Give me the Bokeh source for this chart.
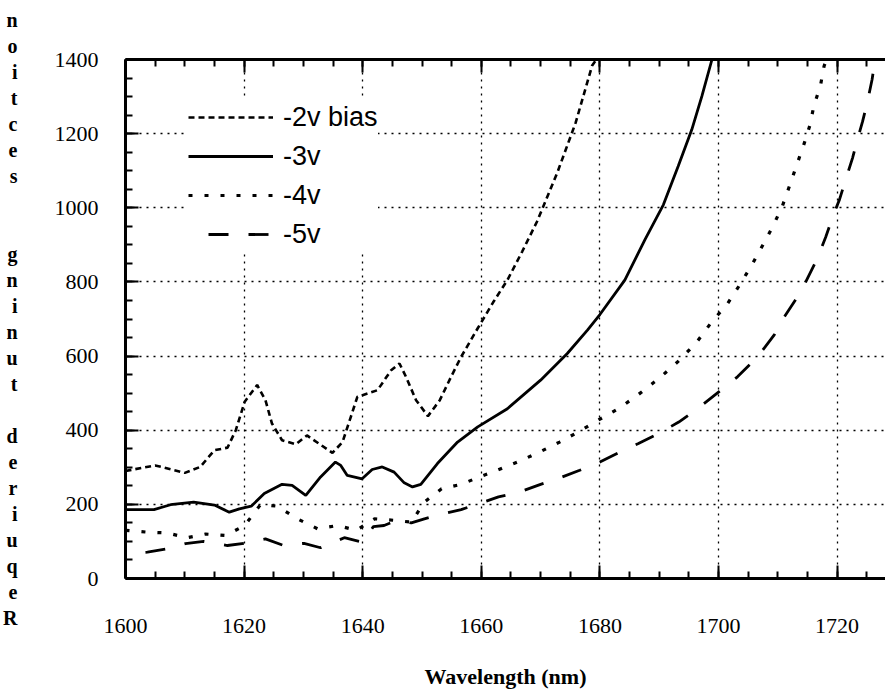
from bokeh.plotting import figure
from bokeh.models import (LinearAxis, SingleIntervalTicker, Range1d, Legend,
                          LegendItem)
from bokeh.embed import file_html
from bokeh.resources import INLINE

# ---------------- data ----------------
wl_2v = [1600, 1605, 1610, 1612.6, 1615, 1617.2, 1618.6, 1620.1, 1622.2, 1623.6,
         1624.7, 1626.4, 1628.7, 1630.6, 1632.6, 1634.9, 1636.6, 1638, 1639.1,
         1642.5, 1644.8, 1646.2, 1647.3, 1649, 1651, 1653, 1654.9, 1656.6, 1659.4,
         1662, 1664.4, 1666.9, 1669.4, 1672.8, 1675.9, 1678.7, 1679.4]
r_2v = [290, 305, 285, 301, 346, 353, 400, 477, 522, 481,
        418, 373, 362, 386, 364, 339, 368, 436, 490,
        508, 562, 580, 544, 481, 438, 481, 544, 598, 675,
        745, 805, 882, 963, 1094, 1229, 1384, 1400]

wl_3v = [1600, 1604.8, 1607.6, 1611.5, 1615, 1617.5, 1619.2, 1621.2, 1623.4, 1626.4,
         1628.1, 1630.4, 1632.9, 1635.4, 1636.3, 1637.4, 1639.9, 1641.6, 1643.3,
         1645.3, 1647, 1648.4, 1649.8, 1652.6, 1656, 1659.4, 1664.4, 1670, 1674.5,
         1677.9, 1680, 1684.2, 1687.6, 1690.7, 1693.2, 1695.5, 1697.2, 1698.9]
r_3v = [186, 186, 199, 206, 198, 179, 188, 195, 229, 254,
        251, 224, 274, 314, 305, 278, 269, 294, 301,
        287, 258, 247, 254, 310, 368, 409, 458, 535, 607,
        670, 712, 805, 914, 1008, 1112, 1211, 1301, 1400]

wl_4v = [1600, 1603.7, 1607, 1610.4, 1613.5, 1616.9, 1620.1, 1622.8, 1625.6, 1629,
         1632.4, 1635.8, 1638.9, 1642, 1645.3, 1648.2, 1650.4, 1653.3, 1656.6,
         1659.7, 1662.7, 1666.4, 1669.8, 1673.2, 1676.3, 1679.7, 1683.4, 1686.3,
         1690, 1693.3, 1696.3, 1698.9, 1701.5, 1703.7, 1705.7, 1707.6, 1709.3,
         1710.8, 1712, 1713.2, 1714.3, 1715.4, 1716.1, 1717.2, 1717.8, 1718.2]
r_4v = [130, 125, 123, 110, 120, 116, 143, 200, 195, 161,
        134, 143, 130, 161, 157, 152, 206, 242, 254,
        274, 292, 316, 341, 368, 395, 427, 461, 494,
        540, 587, 637, 693, 741, 795, 848, 903, 954,
        1006, 1060, 1116, 1166, 1222, 1276, 1330, 1382, 1400]

wl_5v = [1600, 1603.7, 1607, 1610.1, 1613.2, 1617.2, 1620, 1623.6, 1626.7, 1630.1,
         1632.9, 1636.9, 1640, 1641.8, 1643.6, 1645.8, 1648.2, 1650.4, 1653, 1656.6,
         1660, 1662.9, 1666.4, 1670, 1673.2, 1676.6, 1680, 1683.1, 1686.5, 1689.9,
         1693.3, 1696.7, 1700.1, 1703.2, 1706.6, 1709.4, 1711.1, 1713.9, 1716.7,
         1718.1, 1719.5, 1720.4, 1721.8, 1722.6, 1723.5, 1724.3, 1725.2, 1725.9, 1726.4]
r_5v = [68, 71, 80, 94, 100, 89, 95, 107, 89, 95,
        83, 110, 98, 140, 143, 157, 150, 161, 172, 186,
        204, 220, 233, 254, 271, 292, 314, 339, 364, 391,
        422, 461, 504, 544, 598, 657, 706, 774, 864,
        922, 986, 1022, 1094, 1134, 1188, 1233, 1292, 1346, 1400]

series_labels = ["-2v bias", "-3v", "-4v", "-5v"]
y_title = "Required tuning section"
x_title = "Wavelength (nm)"

# ---------------- geometry ----------------
W, H = 885, 694
FL, FT, FB = 125, 59, 116
frame_w = W - FL
x_end = 1600 + frame_w / 5.93

p = figure(width=W, height=H, output_backend="svg", toolbar_location=None,
           x_range=Range1d(1600, x_end), y_range=Range1d(0, 1400),
           min_border_left=FL, min_border_right=0, min_border_top=FT,
           min_border_bottom=FB)
p.outline_line_color = None
p.background_fill_color = "white"
p.border_fill_color = "white"

xt = SingleIntervalTicker(interval=20, num_minor_ticks=4)
yt = SingleIntervalTicker(interval=200, num_minor_ticks=4)
bottom_axis = p.below[0]
left_axis = p.left[0]
bottom_axis.ticker = xt
left_axis.ticker = yt
p.xgrid.ticker = xt
p.ygrid.ticker = yt

top_axis = LinearAxis(ticker=SingleIntervalTicker(interval=20, num_minor_ticks=4),
                      major_label_text_font_size="1px", major_label_standoff=0,
                      major_label_text_color=None)
p.add_layout(top_axis, "above")

for ax in [bottom_axis, left_axis, top_axis]:
    ax.axis_line_width = 3
    ax.axis_line_color = "black"
    ax.major_tick_in = 13
    ax.major_tick_out = 0
    ax.minor_tick_in = 7
    ax.minor_tick_out = 0
    ax.major_tick_line_width = 2
    ax.minor_tick_line_width = 2
    ax.major_tick_line_color = "black"
    ax.minor_tick_line_color = "black"
    ax.major_label_text_font = "Liberation Serif"

bottom_axis.major_label_text_color = "black"
left_axis.major_label_text_color = "black"
bottom_axis.major_label_text_font_size = "22px"
left_axis.major_label_text_font_size = "22px"
bottom_axis.major_label_standoff = 40
left_axis.major_label_standoff = 27

bottom_axis.axis_label = x_title
bottom_axis.axis_label_text_font = "Liberation Serif"
bottom_axis.axis_label_text_font_style = "bold"
bottom_axis.axis_label_text_font_size = "22px"
bottom_axis.axis_label_text_color = "black"
bottom_axis.axis_label_standoff = 28

# stacked, bottom-to-top y title: one upright letter per line, spaces -> blank lines
stack_lines = []
for w in y_title.split(" ")[::-1]:
    if stack_lines:
        stack_lines += [" ", " "] if w == "tuning" else [" "]
    stack_lines += list(w[::-1])
left_axis.axis_label = "\n".join(stack_lines)
left_axis.axis_label_orientation = "horizontal"
left_axis.axis_label_text_font = "Liberation Serif"
left_axis.axis_label_text_font_style = "bold"
left_axis.axis_label_text_font_size = "20px"
left_axis.axis_label_text_line_height = 1.18
left_axis.axis_label_text_color = "black"
left_axis.axis_label_standoff = 34

for g in [p.xgrid[0], p.ygrid[0]]:
    g.grid_line_color = "black"
    g.grid_line_dash = "2 5"
    g.grid_line_width = 1.3

# ---------------- lines ----------------
r2 = p.line(wl_2v, r_2v, line_color="black", line_width=2.6, line_dash="6 4")
r3 = p.line(wl_3v, r_3v, line_color="black", line_width=2.8)
r4 = p.line(wl_4v, r_4v, line_color="black", line_width=3.2, line_dash="4 12")
r5 = p.line(wl_5v, r_5v, line_color="black", line_width=2.8, line_dash="20 20",
            line_dash_offset=20)

legend = Legend(items=[LegendItem(label=series_labels[0], renderers=[r2]),
                       LegendItem(label=series_labels[1], renderers=[r3]),
                       LegendItem(label=series_labels[2], renderers=[r4]),
                       LegendItem(label=series_labels[3], renderers=[r5])],
                location=(63, 326), glyph_width=85, glyph_height=36,
                label_height=36, spacing=3, label_standoff=10, padding=15,
                margin=0, border_line_color=None, background_fill_color="white",
                background_fill_alpha=1.0, label_text_font="Liberation Sans",
                label_text_font_size="27px", label_text_color="black")
p.add_layout(legend)

open("out.html", "w").write(file_html(p, INLINE))
